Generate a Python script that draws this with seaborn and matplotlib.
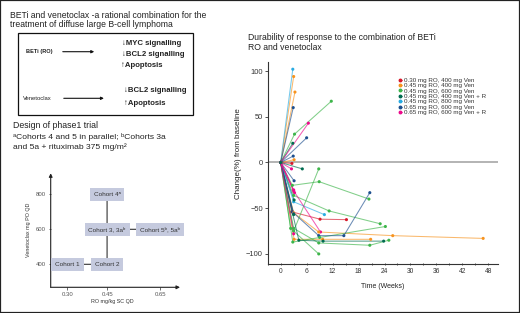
import numpy as np
import pandas as pd
import matplotlib
matplotlib.use("Agg")
import matplotlib.pyplot as plt
import seaborn as sns
from matplotlib.patches import Rectangle, FancyArrowPatch
from matplotlib.lines import Line2D
from matplotlib import font_manager

# ---------------- data ----------------
cohorts = ["0.30 mg RO, 400 mg Ven", "0.45 mg RO, 400 mg Ven", "0.45 mg RO, 600 mg Ven",
           "0.45 mg RO, 400 mg Ven + R", "0.45 mg RO, 800 mg Ven", "0.65 mg RO, 600 mg Ven",
           "0.65 mg RO, 600 mg Ven + R"]
cohort_colors = ["#d7192b", "#f7931e", "#3db54a", "#006b4f", "#29abe2", "#1d4f8e", "#ec0a8c"]

patient_cohort = [4, 1, 1, 5, 2, 6, 3, 5, 5, 1, 0, 6, 3, 2, 5, 2, 6, 6, 2, 4, 3, 0, 5, 6, 1, 1, 3, 2, 2, 2, 5, 6, 3]
patient_weeks = [
    [0, 2.8], [0, 3.0], [0, 3.3], [0, 2.9], [0, 3.2, 11.7], [0, 6.4], [0, 2.8], [0, 6.0],
    [0, 2.9], [0, 3.1], [0, 2.6], [0, 2.5], [0, 5.0], [0, 3.0, 8.8], [0, 3.1],
    [0, 2.7, 8.9, 20.4], [0, 3.0], [0, 3.2], [0, 3.0, 11.2, 23.0], [0, 3.0, 10.1], [0, 3.1],
    [0, 2.6, 9.1, 15.2], [0, 2.7, 8.8, 14.6, 20.6], [0, 3.0, 9.2], [0, 3.0, 8.8, 25.9, 46.8],
    [0, 3.1, 9.7, 20.8], [0, 4.2, 9.8, 23.8], [0, 3.0, 8.8, 20.6, 25.0], [0, 2.8, 9.0, 24.2],
    [0, 2.3, 8.8], [0, 3.0], [0, 3.0], [0, 3.0],
]
patient_change = [
    [0, 102], [0, 94], [0, 77], [0, 60], [0, 31, 67], [0, 43], [0, 21], [0, 27],
    [0, 7], [0, 3], [0, -1], [0, -7], [0, -7], [0, -75, -7], [0, -20],
    [0, -25, -21, -40], [0, -30], [0, -33], [0, -36, -53, -67], [0, -43, -57], [0, -41],
    [0, -54, -62, -62.5], [0, -54, -80, -80, -33], [0, -31, -76], [0, -55, -76, -80, -83],
    [0, -84, -84, -84], [0, -85, -86, -86], [0, -72, -88, -90.5, -85], [0, -87, -82, -70],
    [0, -72, -100], [0, -56], [0, -78], [0, -57],
]
x_ticks = [0, 6, 12, 18, 24, 30, 36, 42, 48]
y_ticks = [-100, -50, 0, 50, 100]

design_labels = ["Cohort 1", "Cohort 2", "Cohort 3, 3a\u1d47", "Cohort 5\u1d47, 5a\u1d47", "Cohort 4\u1d43"]
design_ro = [0.30, 0.45, 0.45, 0.65, 0.45]
design_ven = [400, 400, 600, 600, 800]
design_links = [(0, 1), (1, 2), (2, 3), (2, 4)]
design_xticks = [0.30, 0.45, 0.65]
design_yticks = [400, 600, 800]

# ---------------- fonts ----------------
sns.set_theme(style="white")
names = {f.name for f in font_manager.fontManager.ttflist}
BASE = ["Liberation Sans", "DejaVu Sans"]
if "Liberation Sans Narrow" in names:
    NARROW = ["Liberation Sans Narrow", "DejaVu Sans"]
elif "DejaVu Sans Condensed" in names:
    NARROW = ["DejaVu Sans Condensed", "DejaVu Sans"]
else:
    NARROW = BASE
plt.rcParams["font.family"] = BASE

W, H = 520, 313
fig = plt.figure(figsize=(5.2, 3.13), dpi=100)
fig.patch.set_facecolor("white")


def fx(px):
    return px / W


def fy(py):
    return 1 - py / H


TXT = "#222222"
# outer frame
fig.add_artist(Rectangle((0, 0), 1, 1, transform=fig.transFigure, fill=False, lw=1.6, ec="#222222"))

# ---------------- left: text ----------------
fig.text(fx(10), fy(15), "BETi and venetoclax -a rational combination for the", fontsize=6.2, va="center", color=TXT)
fig.text(fx(10), fy(24.5), "treatment of diffuse large B-cell lymphoma", fontsize=6.2, va="center", color=TXT)

fig.add_artist(Rectangle((fx(17.7), fy(115)), fx(193.3) - fx(17.7), fy(32.7) - fy(115),
                         transform=fig.transFigure, fill=False, lw=0.9, ec="#111111"))
fig.text(fx(25.5), fy(51.7), "BETi (RO)", fontsize=4.1, fontweight="bold", va="center", color=TXT)
fig.text(fx(23.3), fy(99), "Venetoclax", fontsize=4.2, va="center", color=TXT)
for (x0, x1, yy) in [(60, 97, 51.7), (61, 106.7, 98.3)]:
    fig.add_artist(FancyArrowPatch((fx(x0), fy(yy)), (fx(x1), fy(yy)), transform=fig.transFigure,
                                   arrowstyle="-|>", mutation_scale=4, lw=0.8, color="#111111"))
for (xx, yy, s) in [(121.5, 43.3, "\u2193MYC signalling"), (121.5, 54.3, "\u2193BCL2 signalling"),
                    (121.5, 65.3, "\u2191Apoptosis"), (124, 90.7, "\u2193BCL2 signalling"),
                    (124, 103.3, "\u2191Apoptosis")]:
    fig.text(fx(xx), fy(yy), s, fontsize=5.6, fontweight="bold", va="center", color=TXT)

fig.text(fx(13.3), fy(126), "Design of phase1 trial", fontsize=6.3, va="center", color=TXT)
fig.text(fx(13.3), fy(136.7), "\u1d43Cohorts 4 and 5 in parallel; \u1d47Cohorts 3a", fontsize=6.1, va="center", color=TXT)
fig.text(fx(13.3), fy(146.7), "and 5a + rituximab 375 mg/m\u00b2", fontsize=6.1, va="center", color=TXT)

fig.text(fx(248), fy(37), "Durability of response to the combination of BETi", fontsize=6.2, va="center", color=TXT)
fig.text(fx(248), fy(47), "RO and venetoclax", fontsize=6.2, va="center", color=TXT)

# ---------------- left: design diagram ----------------
axd = fig.add_axes([fx(50.7), fy(287.3), fx(180) - fx(50.7), fy(173.3) - fy(287.3)])
axd.set_xlim(0.237, 0.7255)
axd.set_ylim(268.6, 920)
axd.set_facecolor("none")
for sp in axd.spines.values():
    sp.set_visible(False)
axd.annotate("", xy=(0, 1), xytext=(0, 0), xycoords="axes fraction",
             arrowprops=dict(arrowstyle="-|>", lw=0.8, color="#222222", mutation_scale=5, shrinkA=0, shrinkB=0))
axd.annotate("", xy=(1, 0), xytext=(0, 0), xycoords="axes fraction",
             arrowprops=dict(arrowstyle="-|>", lw=0.8, color="#222222", mutation_scale=5, shrinkA=0, shrinkB=0))
axd.set_xticks(design_xticks)
axd.set_xticklabels([f"{v:.2f}" for v in design_xticks])
axd.set_yticks(design_yticks)
axd.tick_params(axis="both", labelsize=4.3, labelcolor="#555555", length=1.8, width=0.5, color="#333333", pad=1.5,
                bottom=True, left=True)
for lab in axd.get_xticklabels() + axd.get_yticklabels():
    lab.set_family(NARROW)
axd.set_xlabel("RO mg/kg SC QD", fontsize=3.9, color="#333333", family=NARROW)
axd.set_ylabel("Venetoclax mg PO QD", fontsize=3.9, color="#333333", family=NARROW)
axd.xaxis.set_label_coords(0.48, -0.105)
axd.yaxis.set_label_coords(-0.15, 0.50)

boxes = []
for lab, xr, yv in zip(design_labels, design_ro, design_ven):
    t = axd.text(xr, yv, lab, fontsize=4.6, ha="center", va="center", color="#333333",
                 bbox=dict(boxstyle="square,pad=0.6", fc="#c5cade", ec="none"), zorder=3)
    boxes.append(t)
for a, b in design_links:
    axd.annotate("", xy=(design_ro[b], design_ven[b]), xytext=(design_ro[a], design_ven[a]),
                 xycoords="data", textcoords="data",
                 arrowprops=dict(arrowstyle="-|>", lw=0.8, color="#333333", mutation_scale=3.5,
                                 patchA=boxes[a].get_bbox_patch(), patchB=boxes[b].get_bbox_patch(),
                                 shrinkA=0, shrinkB=0), zorder=2)

# ---------------- right: spider plot ----------------
rows = []
for pid, (c, ws, vs) in enumerate(zip(patient_cohort, patient_weeks, patient_change)):
    for w, v in zip(ws, vs):
        rows.append(dict(patient=pid, cohort=cohorts[c], week=w, change=v))
df = pd.DataFrame(rows)
pal = dict(zip(cohorts, cohort_colors))

ax = fig.add_axes([fx(267.7), fy(264), fx(498.3) - fx(267.7), fy(61.7) - fy(264)])
ax.axhline(0, color="#b3b3b3", lw=1.4, zorder=0)
sns.lineplot(data=df, x="week", y="change", hue="cohort", units="patient", estimator=None, sort=False,
             palette=pal, hue_order=cohorts, lw=0.75, alpha=0.65, legend=False, ax=ax)
sns.scatterplot(data=df, x="week", y="change", hue="cohort", palette=pal, hue_order=cohorts,
                s=5, edgecolor="none", linewidth=0, legend=False, ax=ax, zorder=4)
ax.set_xlim(-2.8, 50.3)
ax.set_ylim(-111, 110.2)
ax.set_xticks(x_ticks)
ax.set_xticks(np.arange(-3, 51, 3), minor=True)
ax.set_yticks(y_ticks)
ax.set_yticklabels([str(v).replace("-", "\u2212") for v in y_ticks])
sns.despine(ax=ax)
for s in ["left", "bottom"]:
    ax.spines[s].set_color("#333333")
    ax.spines[s].set_linewidth(0.8)
ax.tick_params(axis="x", which="both", direction="inout", length=2, width=0.6, color="#333333",
               labelsize=4.8, labelcolor="#333333", pad=2, bottom=True)
ax.tick_params(axis="y", which="both", direction="out", length=2, width=0.6, color="#333333",
               labelsize=5.4, labelcolor="#333333", pad=1.5, left=True)
for lab in ax.get_xticklabels() + ax.get_yticklabels():
    lab.set_family(NARROW)
ax.set_xlabel("Time (Weeks)", fontsize=5.0, color="#222222", family=NARROW)
ax.set_ylabel("Change(%) from baseline", fontsize=5.8, color="#222222", family=NARROW)
ax.xaxis.set_label_coords(0.50, -0.093)
ax.yaxis.set_label_coords(-0.112, 0.545)
ax.set_facecolor("none")

handles = [Line2D([], [], marker="o", ls="-", lw=0.5, color=c, markersize=1.8) for c in cohort_colors]
leg = ax.legend(handles, cohorts, loc="upper left", bbox_to_anchor=((398.5 - 267.7) / 230.6, (264 - 77.5) / 202.3),
                frameon=False, fontsize=4.5, handlelength=0.5, handletextpad=0.3, labelspacing=0.0,
                borderaxespad=0, borderpad=0)
for t in leg.get_texts():
    t.set_color("#333333")

fig.savefig("out.png", dpi=100)
